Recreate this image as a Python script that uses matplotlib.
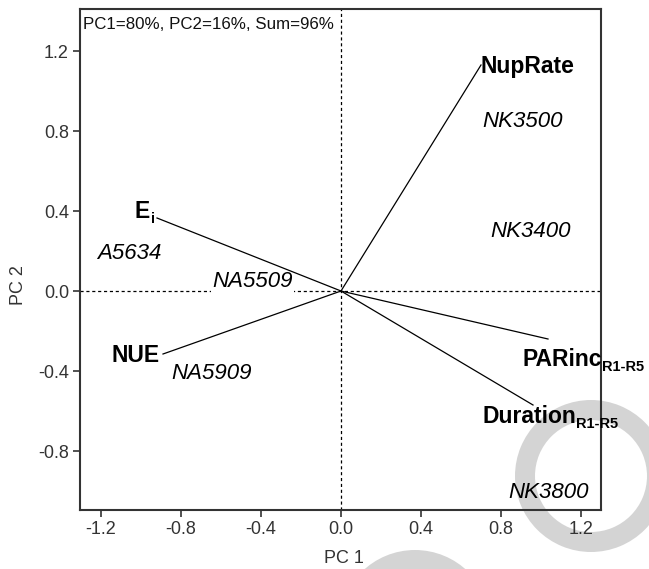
import matplotlib
matplotlib.use('Agg')
import matplotlib.pyplot as plt
from matplotlib.patches import Wedge, Circle
from matplotlib.transforms import IdentityTransform

plt.rcParams['font.family'] = ['Liberation Sans', 'DejaVu Sans']
plt.rcParams['axes.unicode_minus'] = False

# ---- data ----
var_names = ['NupRate', 'E', 'NUE', 'PARinc', 'Duration']
var_subs = ['', 'i', '', 'R1-R5', 'R1-R5']
var_pc1 = [0.70, -0.92, -0.89, 1.035, 0.96]
var_pc2 = [1.13, 0.365, -0.315, -0.24, -0.57]

geno_names = ['NK3500', 'NK3400', 'A5634', 'NA5509', 'NA5909', 'NK3800']
geno_pc1 = [0.91, 0.95, -1.057, -0.4425, -0.645, 1.04]
geno_pc2 = [0.82, 0.27, 0.16, 0.02, -0.44, -1.035]

xticks = [-1.2, -0.8, -0.4, 0.0, 0.4, 0.8, 1.2]
yticks = [-0.8, -0.4, 0.0, 0.4, 0.8, 1.2]
title_text = 'PC1=80%, PC2=16%, Sum=96%'

# label placement (offsets in pixels from line end; ha)
label_off = [(0, -8, 'left'), (-7, 0, 'right'), (-3, -8, 'right'),
             (-26, -27, 'left'), (-51, -18, 'left')]

W, H = 649, 569
fig = plt.figure(figsize=(W / 100, H / 100), dpi=100)
ax = fig.add_axes([80 / W, 59 / H, 521 / W, 501 / H])
ax.set_facecolor('none')

# watermark rings behind the chart
ring = Wedge((591, H - 476), 76, 0, 360, width=20, transform=IdentityTransform(),
             facecolor='#d4d4d4', edgecolor='none', zorder=-5)
fig.add_artist(ring)
cap = Circle((415, H - 626), 76, transform=IdentityTransform(),
             facecolor='#d4d4d4', edgecolor='none', zorder=-5)
fig.add_artist(cap)

ax.set_xlim(-1.305, 1.30)
ax.set_ylim(-1.095, 1.41)

dash = (0, (2.5, 2.2))
ax.axhline(0, color='black', lw=0.9, ls=dash, zorder=1)
ax.axvline(0, color='black', lw=0.9, ls=dash, zorder=1)

px = 0.72  # points per pixel
for name, sub, x, y, (dx, dy, ha) in zip(var_names, var_subs, var_pc1, var_pc2, label_off):
    ax.plot([0, x], [0, y], color='black', lw=0.9, zorder=2)
    t = ax.annotate(name, xy=(x, y), xytext=(dx * px, dy * px), textcoords='offset points',
                    ha=ha, va='baseline', fontsize=16.5, fontweight='bold', zorder=4)
    if sub:
        ax.annotate(sub, xy=(1, 0), xycoords=t, xytext=(0.5, -2.5),
                    textcoords='offset points', ha='left', va='bottom',
                    fontsize=10.5, fontweight='bold', zorder=4)

for name, x, y in zip(geno_names, geno_pc1, geno_pc2):
    kw = {}
    z = 3
    if name == 'NA5509':
        kw['bbox'] = dict(facecolor='white', edgecolor='none', pad=1)
        z = 1.5
    ax.text(x, y, name, ha='center', va='baseline', fontsize=16,
            fontstyle='italic', zorder=z, **kw)

ax.text(0.006, 0.985, title_text, transform=ax.transAxes, ha='left', va='top',
        fontsize=12.2, color='#111')

ax.set_xticks(xticks)
ax.set_yticks(yticks)
ax.set_xticklabels([f'{v:.1f}' for v in xticks])
ax.set_yticklabels([f'{v:.1f}' for v in yticks])
ax.tick_params(direction='out', length=5, width=1.2, labelsize=13,
               colors='#333', pad=3)
for s in ax.spines.values():
    s.set_linewidth(1.5)
    s.set_color('#333')

ax.set_xlabel('PC 1', fontsize=13, color='#333')
ax.set_ylabel('PC 2', fontsize=13, color='#333')
ax.xaxis.set_label_coords(0.506, -0.080)
ax.yaxis.set_label_coords(-0.102, 0.448)

fig.savefig('out.png', dpi=100)
